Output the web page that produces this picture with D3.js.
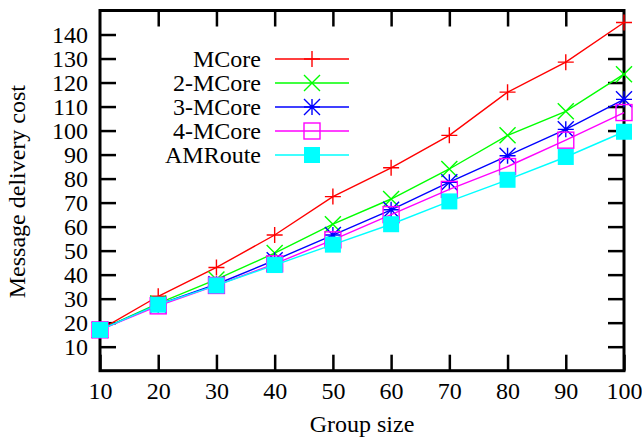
<!DOCTYPE html>
<html>
<head>
<meta charset="utf-8">
</head>
<body style="margin:0">
<script src="https://d3js.org/d3.v7.min.js"></script>
<script>

var groupSizes = [10, 20, 30, 40, 50, 60, 70, 80, 90, 100];

var mcore   = [17, 31, 43, 56.5, 72.5, 84.5, 98, 116, 128.5, 145];
var mcore2  = [17, 28, 38, 49, 61, 71.5, 84, 98, 108, 123.5];
var mcore3  = [17, 27.5, 36, 46, 56.5, 67, 78.5, 89.5, 100.5, 113];
var mcore4  = [17, 27, 35.5, 44.5, 54.5, 65, 75.5, 85, 96, 107.5];
var amroute = [17, 27.5, 35.5, 44, 52.5, 61, 70.5, 79.5, 89, 99.5];

var seriesNames = ["MCore", "2-MCore", "3-MCore", "4-MCore", "AMRoute"];
var yTicks = [10, 20, 30, 40, 50, 60, 70, 80, 90, 100, 110, 120, 130, 140];

var series = [
    { name: seriesNames[0], values: mcore,   color: "#ff0000", marker: "plus" },
    { name: seriesNames[1], values: mcore2,  color: "#00ff00", marker: "cross" },
    { name: seriesNames[2], values: mcore3,  color: "#0000ff", marker: "star" },
    { name: seriesNames[3], values: mcore4,  color: "#ff00ff", marker: "box" },
    { name: seriesNames[4], values: amroute, color: "#00ffff", marker: "fbox" }
];

var FONT = "Liberation Serif";
var FSIZE = 24;

var W = 642, H = 443;
var margin = { top: 10.5, right: 18, bottom: 72.3, left: 100 },
    width = W - margin.left - margin.right,
    height = H - margin.top - margin.bottom;

var svg = d3.select("body").append("svg")
    .attr("width", W)
    .attr("height", H)
    .attr("font-family", FONT)
    .attr("font-size", FSIZE);

var g = svg.append("g")
    .attr("transform", "translate(" + margin.left + "," + margin.top + ")");

var x = d3.scaleLinear().domain([10, 100]).range([0, width]);
var y = d3.scaleLinear().domain([0, 150]).range([height, 0]);

var tickLen = 16;

// axes (bottom, left with labels; top, right mirrored ticks)
var xAxis = d3.axisBottom(x).tickValues(groupSizes).tickSizeInner(-tickLen).tickSizeOuter(0).tickPadding(11);
var yAxis = d3.axisLeft(y).tickValues(yTicks).tickSizeInner(-tickLen).tickSizeOuter(0).tickPadding(12);

g.append("g").attr("transform", "translate(0," + height + ")").call(xAxis);
g.append("g").call(yAxis);

g.append("g").call(d3.axisTop(x).tickValues(groupSizes.slice(1, -1)).tickSizeInner(-tickLen).tickSizeOuter(0).tickFormat(""));
g.append("g").attr("transform", "translate(" + width + ",0)")
    .call(d3.axisRight(y).tickValues(yTicks).tickSizeInner(-tickLen).tickSizeOuter(0).tickFormat(""));

g.selectAll(".domain").remove();
// d3 axes put font-family="sans-serif" on their group; override it
g.selectAll("g").attr("font-family", FONT).attr("font-size", FSIZE);
g.selectAll(".tick line").attr("stroke", "#000").attr("stroke-width", 2.5);
g.selectAll(".tick text").attr("fill", "#000");

g.append("rect")
    .attr("width", width).attr("height", height)
    .attr("fill", "none").attr("stroke", "#000").attr("stroke-width", 3);

// axis titles
svg.append("text")
    .attr("x", margin.left + width / 2)
    .attr("y", 432)
    .attr("text-anchor", "middle")
    .text("Group size");

svg.append("text")
    .attr("transform", "translate(25," + (margin.top + height / 2 + 1) + ") rotate(-90)")
    .attr("text-anchor", "middle")
    .text("Message delivery cost");

// marker drawing
function drawMarker(sel, type, color) {
    var s = 8;
    if (type === "plus") {
        sel.append("path").attr("d", "M" + -s + ",0H" + s + "M0," + -s + "V" + s)
            .attr("stroke", color).attr("stroke-width", 1.4).attr("fill", "none");
    } else if (type === "cross") {
        sel.append("path").attr("d", "M" + -s + "," + -s + "L" + s + "," + s + "M" + -s + "," + s + "L" + s + "," + -s)
            .attr("stroke", color).attr("stroke-width", 1.4).attr("fill", "none");
    } else if (type === "star") {
        sel.append("path").attr("d", "M" + -s + ",0H" + s + "M0," + -s + "V" + s +
                "M" + -s + "," + -s + "L" + s + "," + s + "M" + -s + "," + s + "L" + s + "," + -s)
            .attr("stroke", color).attr("stroke-width", 1.4).attr("fill", "none");
    } else if (type === "box") {
        sel.append("rect").attr("x", -s).attr("y", -s).attr("width", 2 * s).attr("height", 2 * s)
            .attr("stroke", color).attr("stroke-width", 1.4).attr("fill", "none");
    } else if (type === "fbox") {
        sel.append("rect").attr("x", -s).attr("y", -s).attr("width", 2 * s).attr("height", 2 * s)
            .attr("fill", color);
    }
}

var line = d3.line()
    .x(function (d, i) { return x(groupSizes[i]); })
    .y(function (d) { return y(d); });

series.forEach(function (s) {
    var sg = g.append("g");
    sg.append("path")
        .attr("d", line(s.values))
        .attr("fill", "none")
        .attr("stroke", s.color)
        .attr("stroke-width", 1.4);
    s.values.forEach(function (v, i) {
        var m = sg.append("g").attr("transform", "translate(" + x(groupSizes[i]) + "," + y(v) + ")");
        drawMarker(m, s.marker, s.color);
    });
});

// legend
var legend = svg.append("g");
series.forEach(function (s, i) {
    var ly = 59 + i * 24;
    legend.append("text")
        .attr("x", 261).attr("y", ly)
        .attr("dy", "0.35em")
        .attr("text-anchor", "end")
        .text(s.name);
    legend.append("line")
        .attr("x1", 275).attr("x2", 349).attr("y1", ly).attr("y2", ly)
        .attr("stroke", s.color).attr("stroke-width", 1.4);
    drawMarker(legend.append("g").attr("transform", "translate(312," + ly + ")"), s.marker, s.color);
});

</script>
</body>
</html>
